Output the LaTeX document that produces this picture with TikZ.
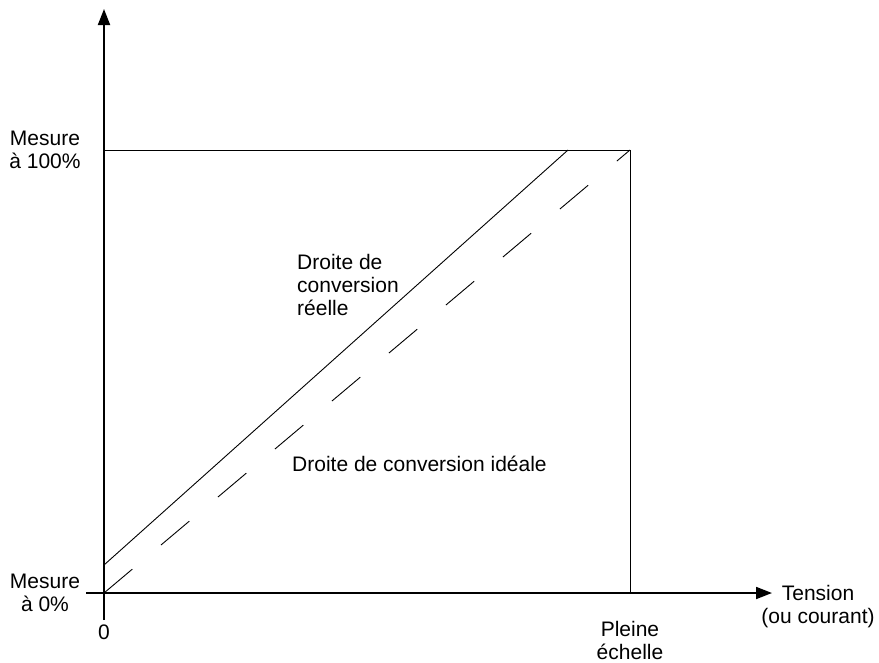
\documentclass[tikz,border=0pt]{standalone}
\usepackage{fontspec}
\setmainfont{Liberation Sans}
\usetikzlibrary{arrows.meta}
\begin{document}
\begin{tikzpicture}[x=1pt,y=-1pt,
  axis/.style={line width=1.8pt,-{Triangle[length=16pt,width=12pt]}},
  thinline/.style={line width=0.9pt},
  ideal/.style={line width=0.9pt,dash pattern=on 37pt off 37.5pt},
  lbl/.style={font=\fontsize{21}{23}\selectfont,inner sep=0pt,align=center}]
\useasboundingbox (0,0) rectangle (879,662);

% axes
\coordinate (O) at (104,593);
\coordinate (ybot) at (104,620);
\coordinate (ytop) at (104,9);
\coordinate (xleft) at (86,593);
\coordinate (xright) at (772,593);
\draw[axis] (ybot) -- (ytop);
\draw[axis] (xleft) -- (xright);

% full-scale frame
\coordinate (top0) at (104,150);
\coordinate (corner) at (630,150);
\coordinate (fs) at (630,593);
\draw[thinline] (top0) -- (corner) -- (fs);

% conversion lines
\coordinate (realstart) at (104,565);
\coordinate (realend) at (568,150);
\draw[thinline] (realstart) -- (realend);
\draw[ideal] (O) -- (corner);

% labels
\node[lbl] (m100) at (45,150) {Mesure\\à 100\%};
\node[lbl] (m0) at (45,593) {Mesure\\à 0\%};
\node[lbl] (zero) at (104,632) {0};
\node[lbl] (pleine) at (630,640) {Pleine\\échelle};
\node[lbl] (tension) at (818,607) {Tension\\(ou courant)};
\node[lbl,anchor=west,align=left] (reelle) at (297,285) {Droite de\\conversion\\réelle};
\node[lbl,anchor=west] (ideale) at (292,464) {Droite de conversion idéale};
\end{tikzpicture}
\end{document}
